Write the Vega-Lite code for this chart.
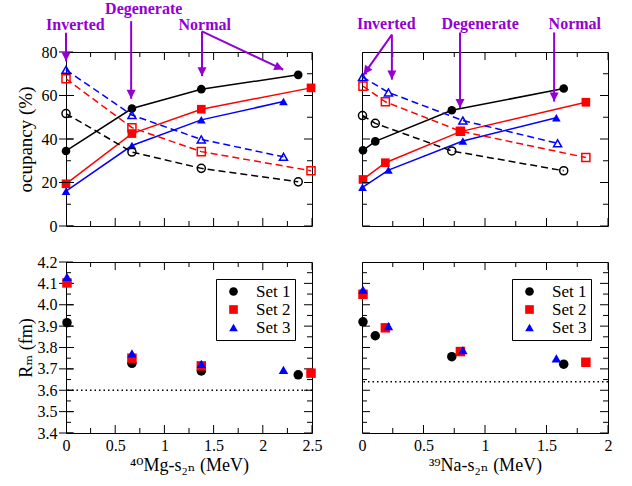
{
  "$schema": "https://vega.github.io/schema/vega-lite/v6.json",
  "background": "white",
  "padding": {"left": 15, "top": 0, "right": 0, "bottom": 0},
  "datasets": {
    "tl": [
      {"set": "Set 1", "kind": "filled", "x": 0, "y": 34.5},
      {"set": "Set 1", "kind": "filled", "x": 0.67, "y": 54},
      {"set": "Set 1", "kind": "filled", "x": 1.375, "y": 62.9},
      {"set": "Set 1", "kind": "filled", "x": 2.36, "y": 69.5},
      {"set": "Set 2", "kind": "filled", "x": 0, "y": 19.4},
      {"set": "Set 2", "kind": "filled", "x": 0.67, "y": 42.5},
      {"set": "Set 2", "kind": "filled", "x": 1.375, "y": 53.7},
      {"set": "Set 2", "kind": "filled", "x": 2.49, "y": 63.5},
      {"set": "Set 3", "kind": "filled", "x": 0, "y": 16},
      {"set": "Set 3", "kind": "filled", "x": 0.67, "y": 37},
      {"set": "Set 3", "kind": "filled", "x": 1.375, "y": 48.8},
      {"set": "Set 3", "kind": "filled", "x": 2.21, "y": 57.2},
      {"set": "Set 1", "kind": "open", "x": 0, "y": 51.7},
      {"set": "Set 1", "kind": "open", "x": 0.67, "y": 34},
      {"set": "Set 1", "kind": "open", "x": 1.375, "y": 26.5},
      {"set": "Set 1", "kind": "open", "x": 2.36, "y": 20.3},
      {"set": "Set 2", "kind": "open", "x": 0, "y": 67.7},
      {"set": "Set 2", "kind": "open", "x": 0.67, "y": 45.2},
      {"set": "Set 2", "kind": "open", "x": 1.375, "y": 34.2},
      {"set": "Set 2", "kind": "open", "x": 2.49, "y": 25.4},
      {"set": "Set 3", "kind": "open", "x": 0, "y": 71.8},
      {"set": "Set 3", "kind": "open", "x": 0.67, "y": 51},
      {"set": "Set 3", "kind": "open", "x": 1.375, "y": 39.8},
      {"set": "Set 3", "kind": "open", "x": 2.21, "y": 31.8}
    ],
    "tr": [
      {"set": "Set 1", "kind": "filled", "x": 0.008, "y": 34.8},
      {"set": "Set 1", "kind": "filled", "x": 0.108, "y": 38.9},
      {"set": "Set 1", "kind": "filled", "x": 0.73, "y": 53.2},
      {"set": "Set 1", "kind": "filled", "x": 1.64, "y": 63.2},
      {"set": "Set 2", "kind": "filled", "x": 0.008, "y": 21.4},
      {"set": "Set 2", "kind": "filled", "x": 0.19, "y": 29.1},
      {"set": "Set 2", "kind": "filled", "x": 0.8, "y": 43.4},
      {"set": "Set 2", "kind": "filled", "x": 1.82, "y": 56.9},
      {"set": "Set 3", "kind": "filled", "x": 0.004, "y": 17.8},
      {"set": "Set 3", "kind": "filled", "x": 0.215, "y": 25.7},
      {"set": "Set 3", "kind": "filled", "x": 0.82, "y": 39.1},
      {"set": "Set 3", "kind": "filled", "x": 1.58, "y": 49.8},
      {"set": "Set 1", "kind": "open", "x": 0.004, "y": 50.8},
      {"set": "Set 1", "kind": "open", "x": 0.108, "y": 47.2},
      {"set": "Set 1", "kind": "open", "x": 0.73, "y": 34.5},
      {"set": "Set 1", "kind": "open", "x": 1.64, "y": 25.4},
      {"set": "Set 2", "kind": "open", "x": 0.008, "y": 64.3},
      {"set": "Set 2", "kind": "open", "x": 0.19, "y": 57.1},
      {"set": "Set 2", "kind": "open", "x": 0.8, "y": 43.6},
      {"set": "Set 2", "kind": "open", "x": 1.82, "y": 31.5},
      {"set": "Set 3", "kind": "open", "x": 0.004, "y": 68.5},
      {"set": "Set 3", "kind": "open", "x": 0.215, "y": 61.4},
      {"set": "Set 3", "kind": "open", "x": 0.82, "y": 48.5},
      {"set": "Set 3", "kind": "open", "x": 1.59, "y": 38}
    ],
    "bl": [
      {"set": "Set 1", "x": 0.01, "y": 3.916},
      {"set": "Set 1", "x": 0.67, "y": 3.726},
      {"set": "Set 1", "x": 1.375, "y": 3.69},
      {"set": "Set 1", "x": 2.36, "y": 3.672},
      {"set": "Set 2", "x": 0.01, "y": 4.102},
      {"set": "Set 2", "x": 0.67, "y": 3.75},
      {"set": "Set 2", "x": 1.375, "y": 3.714},
      {"set": "Set 2", "x": 2.49, "y": 3.68},
      {"set": "Set 3", "x": 0.01, "y": 4.13},
      {"set": "Set 3", "x": 0.67, "y": 3.773},
      {"set": "Set 3", "x": 1.375, "y": 3.723},
      {"set": "Set 3", "x": 2.21, "y": 3.695}
    ],
    "br": [
      {"set": "Set 1", "x": 0.008, "y": 3.92},
      {"set": "Set 1", "x": 0.108, "y": 3.855},
      {"set": "Set 1", "x": 0.73, "y": 3.757},
      {"set": "Set 1", "x": 1.64, "y": 3.722},
      {"set": "Set 2", "x": 0.008, "y": 4.049},
      {"set": "Set 2", "x": 0.19, "y": 3.892},
      {"set": "Set 2", "x": 0.8, "y": 3.781},
      {"set": "Set 2", "x": 1.82, "y": 3.731},
      {"set": "Set 3", "x": 0.008, "y": 4.071},
      {"set": "Set 3", "x": 0.215, "y": 3.9},
      {"set": "Set 3", "x": 0.82, "y": 3.788},
      {"set": "Set 3", "x": 1.58, "y": 3.749}
    ],
    "bl_ref": [{"y": 3.6}],
    "br_ref": [{"y": 3.64}],
    "x25": [{"v": 0}, {"v": 0.25}, {"v": 0.5}, {"v": 0.75}, {"v": 1}, {"v": 1.25}, {"v": 1.5}, {"v": 1.75}, {"v": 2}, {"v": 2.25}, {"v": 2.5}],
    "x20": [{"v": 0}, {"v": 0.25}, {"v": 0.5}, {"v": 0.75}, {"v": 1}, {"v": 1.25}, {"v": 1.5}, {"v": 1.75}, {"v": 2}],
    "y80": [{"v": 0}, {"v": 10}, {"v": 20}, {"v": 30}, {"v": 40}, {"v": 50}, {"v": 60}, {"v": 70}, {"v": 80}],
    "yrm": [{"v": 3.4}, {"v": 3.45}, {"v": 3.5}, {"v": 3.55}, {"v": 3.6}, {"v": 3.65}, {"v": 3.7}, {"v": 3.75}, {"v": 3.8}, {"v": 3.85}, {"v": 3.9}, {"v": 3.95}, {"v": 4.0}, {"v": 4.05}, {"v": 4.1}, {"v": 4.15}, {"v": 4.2}],
    "tl_text": [
      {"label": "Inverted", "x": 0.095, "y": 92.6},
      {"label": "Degenerate", "x": 0.79, "y": 99.6},
      {"label": "Normal", "x": 1.41, "y": 92.6}
    ],
    "tl_arrow": [
      {"dir": "down", "x": 0, "y": 88.8, "x2": 0, "y2": 75.7},
      {"dir": "down", "x": 0.662, "y": 94.2, "x2": 0.662, "y2": 58.5},
      {"dir": "down", "x": 1.382, "y": 89.5, "x2": 1.382, "y2": 68.9},
      {"dir": "diag", "x": 1.382, "y": 89.5, "x2": 2.208, "y2": 71.9}
    ],
    "tr_text": [
      {"label": "Inverted", "x": 0.197, "y": 93.1},
      {"label": "Degenerate", "x": 0.96, "y": 93.1},
      {"label": "Normal", "x": 1.73, "y": 93.1}
    ],
    "tr_arrow": [
      {"dir": "diag", "x": 0.243, "y": 88, "x2": 0.013, "y2": 69.6},
      {"dir": "down", "x": 0.243, "y": 88, "x2": 0.243, "y2": 67.3},
      {"dir": "down", "x": 0.797, "y": 89, "x2": 0.797, "y2": 54.2},
      {"dir": "down", "x": 1.562, "y": 89, "x2": 1.562, "y2": 57.2}
    ]
  },
  "columns": 2,
  "spacing": {"row": 36, "column": 50},
  "bounds": "flush",
  "resolve": {
    "scale": {"color": "independent", "shape": "independent", "x": "independent", "y": "independent"},
    "legend": {"color": "independent", "shape": "independent"}
  },
  "concat": [
    {
      "width": 246,
      "height": 174,
      "resolve": {"axis": {"x": "independent", "y": "independent"}},
      "layer": [
        {
          "data": {"name": "tl"},
          "transform": [{"filter": "datum.kind === 'filled'"}],
          "mark": {"type": "line", "strokeWidth": 1.5},
          "encoding": {
            "x": {"field": "x", "type": "quantitative", "scale": {"domain": [0, 2.5], "nice": false, "zero": false}, "axis": null},
            "y": {"field": "y", "type": "quantitative", "scale": {"domain": [0, 80], "nice": false, "zero": false}, "axis": null},
            "color": {"field": "set", "type": "nominal", "scale": {"domain": ["Set 1", "Set 2", "Set 3"], "range": ["black", "#ff0000", "#0000ff"]}, "legend": null}
          }
        },
        {
          "data": {"name": "tl"},
          "transform": [{"filter": "datum.kind === 'open'"}],
          "mark": {"type": "line", "strokeWidth": 1.5, "strokeDash": [7, 4]},
          "encoding": {
            "x": {"field": "x", "type": "quantitative", "scale": {"domain": [0, 2.5], "nice": false, "zero": false}, "axis": null},
            "y": {"field": "y", "type": "quantitative", "scale": {"domain": [0, 80], "nice": false, "zero": false}, "axis": null},
            "color": {"field": "set", "type": "nominal", "legend": null}
          }
        },
        {
          "data": {"name": "tl"},
          "transform": [{"filter": "datum.kind === 'filled'"}],
          "mark": {"type": "point", "filled": true, "size": 75, "opacity": 1},
          "encoding": {
            "x": {"field": "x", "type": "quantitative", "scale": {"domain": [0, 2.5], "nice": false, "zero": false}, "axis": null},
            "y": {"field": "y", "type": "quantitative", "scale": {"domain": [0, 80], "nice": false, "zero": false}, "axis": null},
            "color": {"field": "set", "type": "nominal", "legend": null},
            "shape": {"field": "set", "type": "nominal", "scale": {"domain": ["Set 1", "Set 2", "Set 3"], "range": ["circle", "square", "triangle-up"]}, "legend": null}
          }
        },
        {
          "data": {"name": "tl"},
          "transform": [{"filter": "datum.kind === 'open'"}],
          "mark": {"type": "point", "filled": false, "size": 65, "strokeWidth": 1.5, "opacity": 1},
          "encoding": {
            "x": {"field": "x", "type": "quantitative", "scale": {"domain": [0, 2.5], "nice": false, "zero": false}, "axis": null},
            "y": {"field": "y", "type": "quantitative", "scale": {"domain": [0, 80], "nice": false, "zero": false}, "axis": null},
            "color": {"field": "set", "type": "nominal", "legend": null},
            "shape": {"field": "set", "type": "nominal", "legend": null}
          }
        },
        {
          "data": {"name": "x25"},
          "mark": {"type": "tick", "orient": "vertical", "thickness": 1, "color": "black", "opacity": 1, "clip": true},
          "encoding": {
            "x": {"field": "v", "type": "quantitative", "scale": {"domain": [0, 2.5], "nice": false, "zero": false}, "axis": null},
            "y": {"datum": 0, "type": "quantitative", "scale": {"domain": [0, 80], "nice": false, "zero": false}, "axis": null},
            "size": {"condition": {"test": "datum.v % 0.5 === 0", "value": 16}, "value": 10}
          }
        },
        {
          "data": {"name": "x25"},
          "mark": {"type": "tick", "orient": "vertical", "thickness": 1, "color": "black", "opacity": 1, "clip": true},
          "encoding": {
            "x": {"field": "v", "type": "quantitative", "scale": {"domain": [0, 2.5], "nice": false, "zero": false}, "axis": null},
            "y": {"datum": 80, "type": "quantitative", "scale": {"domain": [0, 80], "nice": false, "zero": false}, "axis": null},
            "size": {"condition": {"test": "datum.v % 0.5 === 0", "value": 16}, "value": 10}
          }
        },
        {
          "data": {"name": "y80"},
          "mark": {"type": "tick", "orient": "horizontal", "thickness": 1, "color": "black", "opacity": 1, "clip": false},
          "encoding": {
            "y": {"field": "v", "type": "quantitative", "scale": {"domain": [0, 80], "nice": false, "zero": false}, "axis": null},
            "x": {"datum": 0, "type": "quantitative", "scale": {"domain": [0, 2.5], "nice": false, "zero": false}, "axis": null},
            "size": {"condition": {"test": "datum.v % 20 === 0", "value": 14}, "value": 0}
          }
        },
        {
          "data": {"name": "y80"},
          "mark": {"type": "tick", "orient": "horizontal", "thickness": 1, "color": "black", "opacity": 1, "clip": true},
          "encoding": {
            "y": {"field": "v", "type": "quantitative", "scale": {"domain": [0, 80], "nice": false, "zero": false}, "axis": null},
            "x": {"datum": 0, "type": "quantitative", "scale": {"domain": [0, 2.5], "nice": false, "zero": false}, "axis": null},
            "size": {"condition": {"test": "datum.v % 20 === 0", "value": 16}, "value": 10}
          }
        },
        {
          "data": {"name": "y80"},
          "mark": {"type": "tick", "orient": "horizontal", "thickness": 1, "color": "black", "opacity": 1, "clip": true},
          "encoding": {
            "y": {"field": "v", "type": "quantitative", "scale": {"domain": [0, 80], "nice": false, "zero": false}, "axis": null},
            "x": {"datum": 2.5, "type": "quantitative", "scale": {"domain": [0, 2.5], "nice": false, "zero": false}, "axis": null},
            "size": {"condition": {"test": "datum.v % 20 === 0", "value": 16}, "value": 10}
          }
        },
        {
          "data": {"name": "tl_arrow"},
          "mark": {"type": "rule", "color": "#9400d3", "strokeWidth": 2, "clip": false},
          "encoding": {
            "x": {"field": "x", "type": "quantitative", "scale": {"domain": [0, 2.5], "nice": false, "zero": false}, "axis": null},
            "y": {"field": "y", "type": "quantitative", "scale": {"domain": [0, 80], "nice": false, "zero": false}, "axis": null},
            "x2": {"field": "x2"},
            "y2": {"field": "y2"}
          }
        },
        {
          "data": {"name": "tl_arrow"},
          "transform": [{"filter": "datum.dir === 'down'"}],
          "mark": {"type": "point", "shape": "M0,0L-0.45,-0.9L0.45,-0.9Z", "size": 400, "filled": true, "opacity": 1, "color": "#9400d3", "clip": false},
          "encoding": {
            "x": {"field": "x2", "type": "quantitative", "scale": {"domain": [0, 2.5], "nice": false, "zero": false}, "axis": null},
            "y": {"field": "y2", "type": "quantitative", "scale": {"domain": [0, 80], "nice": false, "zero": false}, "axis": null}
          }
        },
        {
          "data": {"name": "tl_arrow"},
          "transform": [{"filter": "datum.dir === 'diag'"}],
          "mark": {"type": "point", "shape": "M0,0L-0.45,-0.9L0.45,-0.9Z", "size": 400, "angle": 295, "filled": true, "opacity": 1, "color": "#9400d3", "clip": false},
          "encoding": {
            "x": {"field": "x2", "type": "quantitative", "scale": {"domain": [0, 2.5], "nice": false, "zero": false}, "axis": null},
            "y": {"field": "y2", "type": "quantitative", "scale": {"domain": [0, 80], "nice": false, "zero": false}, "axis": null}
          }
        },
        {
          "data": {"name": "tl_text"},
          "mark": {"type": "text", "font": "Liberation Serif", "fontWeight": "bold", "fontSize": 16, "color": "#9400d3", "baseline": "middle", "align": "center", "clip": false},
          "encoding": {
            "x": {"field": "x", "type": "quantitative", "scale": {"domain": [0, 2.5], "nice": false, "zero": false}, "axis": null},
            "y": {"field": "y", "type": "quantitative", "scale": {"domain": [0, 80], "nice": false, "zero": false}, "axis": null},
            "text": {"field": "label"}
          }
        },
        {
          "data": {"name": "tl"},
          "mark": {"type": "point", "opacity": 0},
          "encoding": {
            "x": {"field": "x", "type": "quantitative", "scale": {"domain": [0, 2.5], "nice": false, "zero": false},
              "axis": {"orient": "bottom", "values": [0, 0.5, 1, 1.5, 2, 2.5], "labels": false, "ticks": false, "title": null}},
            "y": {"field": "y", "type": "quantitative", "scale": {"domain": [0, 80], "nice": false, "zero": false},
              "axis": {"orient": "left", "values": [0, 20, 40, 60, 80], "labelExpr": "'' + datum.value", "ticks": false, "labelPadding": 9,
                "labelOverlap": false, "labelFlush": false, "labelBound": false,
                "title": "ocupancy (%)", "titleX": -31, "titleFontSize": 19}}
          }
        }
      ]
    },
    {
      "width": 246,
      "height": 174,
      "layer": [
        {
          "data": {"name": "tr"},
          "transform": [{"filter": "datum.kind === 'filled'"}],
          "mark": {"type": "line", "strokeWidth": 1.5},
          "encoding": {
            "x": {"field": "x", "type": "quantitative", "scale": {"domain": [0, 2], "nice": false, "zero": false}, "axis": null},
            "y": {"field": "y", "type": "quantitative", "scale": {"domain": [0, 80], "nice": false, "zero": false}, "axis": null},
            "color": {"field": "set", "type": "nominal", "scale": {"domain": ["Set 1", "Set 2", "Set 3"], "range": ["black", "#ff0000", "#0000ff"]}, "legend": null}
          }
        },
        {
          "data": {"name": "tr"},
          "transform": [{"filter": "datum.kind === 'open'"}],
          "mark": {"type": "line", "strokeWidth": 1.5, "strokeDash": [7, 4]},
          "encoding": {
            "x": {"field": "x", "type": "quantitative", "scale": {"domain": [0, 2], "nice": false, "zero": false}, "axis": null},
            "y": {"field": "y", "type": "quantitative", "scale": {"domain": [0, 80], "nice": false, "zero": false}, "axis": null},
            "color": {"field": "set", "type": "nominal", "legend": null}
          }
        },
        {
          "data": {"name": "tr"},
          "transform": [{"filter": "datum.kind === 'open'"}],
          "mark": {"type": "point", "filled": false, "size": 65, "strokeWidth": 1.5, "opacity": 1},
          "encoding": {
            "x": {"field": "x", "type": "quantitative", "scale": {"domain": [0, 2], "nice": false, "zero": false}, "axis": null},
            "y": {"field": "y", "type": "quantitative", "scale": {"domain": [0, 80], "nice": false, "zero": false}, "axis": null},
            "color": {"field": "set", "type": "nominal", "legend": null},
            "shape": {"field": "set", "type": "nominal", "scale": {"domain": ["Set 1", "Set 2", "Set 3"], "range": ["circle", "square", "triangle-up"]}, "legend": null}
          }
        },
        {
          "data": {"name": "tr"},
          "transform": [{"filter": "datum.kind === 'filled'"}],
          "mark": {"type": "point", "filled": true, "size": 75, "opacity": 1},
          "encoding": {
            "x": {"field": "x", "type": "quantitative", "scale": {"domain": [0, 2], "nice": false, "zero": false}, "axis": null},
            "y": {"field": "y", "type": "quantitative", "scale": {"domain": [0, 80], "nice": false, "zero": false}, "axis": null},
            "color": {"field": "set", "type": "nominal", "legend": null},
            "shape": {"field": "set", "type": "nominal", "legend": null}
          }
        },
        {
          "data": {"name": "x20"},
          "mark": {"type": "tick", "orient": "vertical", "thickness": 1, "color": "black", "opacity": 1, "clip": true},
          "encoding": {
            "x": {"field": "v", "type": "quantitative", "scale": {"domain": [0, 2], "nice": false, "zero": false}, "axis": null},
            "y": {"datum": 0, "type": "quantitative", "scale": {"domain": [0, 80], "nice": false, "zero": false}, "axis": null},
            "size": {"condition": {"test": "datum.v % 0.5 === 0", "value": 16}, "value": 10}
          }
        },
        {
          "data": {"name": "x20"},
          "mark": {"type": "tick", "orient": "vertical", "thickness": 1, "color": "black", "opacity": 1, "clip": true},
          "encoding": {
            "x": {"field": "v", "type": "quantitative", "scale": {"domain": [0, 2], "nice": false, "zero": false}, "axis": null},
            "y": {"datum": 80, "type": "quantitative", "scale": {"domain": [0, 80], "nice": false, "zero": false}, "axis": null},
            "size": {"condition": {"test": "datum.v % 0.5 === 0", "value": 16}, "value": 10}
          }
        },
        {
          "data": {"name": "y80"},
          "mark": {"type": "tick", "orient": "horizontal", "thickness": 1, "color": "black", "opacity": 1, "clip": true},
          "encoding": {
            "y": {"field": "v", "type": "quantitative", "scale": {"domain": [0, 80], "nice": false, "zero": false}, "axis": null},
            "x": {"datum": 0, "type": "quantitative", "scale": {"domain": [0, 2], "nice": false, "zero": false}, "axis": null},
            "size": {"condition": {"test": "datum.v % 20 === 0", "value": 16}, "value": 10}
          }
        },
        {
          "data": {"name": "y80"},
          "mark": {"type": "tick", "orient": "horizontal", "thickness": 1, "color": "black", "opacity": 1, "clip": true},
          "encoding": {
            "y": {"field": "v", "type": "quantitative", "scale": {"domain": [0, 80], "nice": false, "zero": false}, "axis": null},
            "x": {"datum": 2, "type": "quantitative", "scale": {"domain": [0, 2], "nice": false, "zero": false}, "axis": null},
            "size": {"condition": {"test": "datum.v % 20 === 0", "value": 16}, "value": 10}
          }
        },
        {
          "data": {"name": "tr_arrow"},
          "mark": {"type": "rule", "color": "#9400d3", "strokeWidth": 2, "clip": false},
          "encoding": {
            "x": {"field": "x", "type": "quantitative", "scale": {"domain": [0, 2], "nice": false, "zero": false}, "axis": null},
            "y": {"field": "y", "type": "quantitative", "scale": {"domain": [0, 80], "nice": false, "zero": false}, "axis": null},
            "x2": {"field": "x2"},
            "y2": {"field": "y2"}
          }
        },
        {
          "data": {"name": "tr_arrow"},
          "transform": [{"filter": "datum.dir === 'down'"}],
          "mark": {"type": "point", "shape": "M0,0L-0.45,-0.9L0.45,-0.9Z", "size": 400, "filled": true, "opacity": 1, "color": "#9400d3", "clip": false},
          "encoding": {
            "x": {"field": "x2", "type": "quantitative", "scale": {"domain": [0, 2], "nice": false, "zero": false}, "axis": null},
            "y": {"field": "y2", "type": "quantitative", "scale": {"domain": [0, 80], "nice": false, "zero": false}, "axis": null}
          }
        },
        {
          "data": {"name": "tr_arrow"},
          "transform": [{"filter": "datum.dir === 'diag'"}],
          "mark": {"type": "point", "shape": "M0,0L-0.45,-0.9L0.45,-0.9Z", "size": 400, "angle": 35, "filled": true, "opacity": 1, "color": "#9400d3", "clip": false},
          "encoding": {
            "x": {"field": "x2", "type": "quantitative", "scale": {"domain": [0, 2], "nice": false, "zero": false}, "axis": null},
            "y": {"field": "y2", "type": "quantitative", "scale": {"domain": [0, 80], "nice": false, "zero": false}, "axis": null}
          }
        },
        {
          "data": {"name": "tr_text"},
          "mark": {"type": "text", "font": "Liberation Serif", "fontWeight": "bold", "fontSize": 16, "color": "#9400d3", "baseline": "middle", "align": "center", "clip": false},
          "encoding": {
            "x": {"field": "x", "type": "quantitative", "scale": {"domain": [0, 2], "nice": false, "zero": false}, "axis": null},
            "y": {"field": "y", "type": "quantitative", "scale": {"domain": [0, 80], "nice": false, "zero": false}, "axis": null},
            "text": {"field": "label"}
          }
        }
      ]
    },
    {
      "width": 246,
      "height": 171,
      "resolve": {"axis": {"x": "independent", "y": "independent"}},
      "layer": [
        {
          "data": {"name": "bl_ref"},
          "mark": {"type": "rule", "color": "black", "strokeWidth": 1.5, "strokeDash": [1.5, 3]},
          "encoding": {
            "y": {"field": "y", "type": "quantitative", "scale": {"domain": [3.4, 4.2], "nice": false, "zero": false}, "axis": null}
          }
        },
        {
          "data": {"name": "x25"},
          "mark": {"type": "tick", "orient": "vertical", "thickness": 1, "color": "black", "opacity": 1, "clip": true},
          "encoding": {
            "x": {"field": "v", "type": "quantitative", "scale": {"domain": [0, 2.5], "nice": false, "zero": false}, "axis": null},
            "y": {"datum": 3.4, "type": "quantitative", "scale": {"domain": [3.4, 4.2], "nice": false, "zero": false}, "axis": null},
            "size": {"condition": {"test": "datum.v % 0.5 === 0", "value": 16}, "value": 10}
          }
        },
        {
          "data": {"name": "x25"},
          "mark": {"type": "tick", "orient": "vertical", "thickness": 1, "color": "black", "opacity": 1, "clip": true},
          "encoding": {
            "x": {"field": "v", "type": "quantitative", "scale": {"domain": [0, 2.5], "nice": false, "zero": false}, "axis": null},
            "y": {"datum": 4.2, "type": "quantitative", "scale": {"domain": [3.4, 4.2], "nice": false, "zero": false}, "axis": null},
            "size": {"condition": {"test": "datum.v % 0.5 === 0", "value": 16}, "value": 10}
          }
        },
        {
          "data": {"name": "yrm"},
          "mark": {"type": "tick", "orient": "horizontal", "thickness": 1, "color": "black", "opacity": 1, "clip": false},
          "encoding": {
            "y": {"field": "v", "type": "quantitative", "scale": {"domain": [3.4, 4.2], "nice": false, "zero": false}, "axis": null},
            "x": {"datum": 0, "type": "quantitative", "scale": {"domain": [0, 2.5], "nice": false, "zero": false}, "axis": null},
            "size": {"condition": {"test": "round(datum.v * 100) % 10 === 0", "value": 14}, "value": 0}
          }
        },
        {
          "data": {"name": "yrm"},
          "mark": {"type": "tick", "orient": "horizontal", "thickness": 1, "color": "black", "opacity": 1, "clip": true},
          "encoding": {
            "y": {"field": "v", "type": "quantitative", "scale": {"domain": [3.4, 4.2], "nice": false, "zero": false}, "axis": null},
            "x": {"datum": 0, "type": "quantitative", "scale": {"domain": [0, 2.5], "nice": false, "zero": false}, "axis": null},
            "size": {"condition": {"test": "round(datum.v * 100) % 10 === 0", "value": 16}, "value": 10}
          }
        },
        {
          "data": {"name": "yrm"},
          "mark": {"type": "tick", "orient": "horizontal", "thickness": 1, "color": "black", "opacity": 1, "clip": true},
          "encoding": {
            "y": {"field": "v", "type": "quantitative", "scale": {"domain": [3.4, 4.2], "nice": false, "zero": false}, "axis": null},
            "x": {"datum": 2.5, "type": "quantitative", "scale": {"domain": [0, 2.5], "nice": false, "zero": false}, "axis": null},
            "size": {"condition": {"test": "round(datum.v * 100) % 10 === 0", "value": 16}, "value": 10}
          }
        },
        {
          "data": {"name": "bl"},
          "mark": {"type": "point", "filled": true, "size": 90, "opacity": 1},
          "encoding": {
            "x": {"field": "x", "type": "quantitative", "scale": {"domain": [0, 2.5], "nice": false, "zero": false},
              "axis": {"orient": "bottom", "values": [0, 0.5, 1, 1.5, 2, 2.5], "labelExpr": "'' + datum.value", "labelPadding": 4, "labelOverlap": false, "labelFlush": false, "ticks": false,
                "title": "⁴⁰Mg-s₂ₙ (MeV)", "titleBaseline": "alphabetic", "titleY": 37}},
            "y": {"field": "y", "type": "quantitative", "scale": {"domain": [3.4, 4.2], "nice": false, "zero": false},
              "axis": {"orient": "left", "values": [3.4, 3.5, 3.6, 3.7, 3.8, 3.9, 4.0, 4.1, 4.2],
                "labelExpr": "format(datum.value, '.1f')", "labelPadding": 9, "labelOverlap": false, "labelFlush": false, "ticks": false,
                "title": "Rₘ (fm)", "titleX": -31}},
            "color": {"field": "set", "type": "nominal", "scale": {"domain": ["Set 1", "Set 2", "Set 3"], "range": ["black", "#ff0000", "#0000ff"]},
              "legend": {"title": null, "orient": "top-right", "offset": 17}},
            "shape": {"field": "set", "type": "nominal", "scale": {"domain": ["Set 1", "Set 2", "Set 3"], "range": ["circle", "square", "triangle-up"]},
              "legend": {"title": null, "orient": "top-right", "offset": 17}}
          }
        }
      ]
    },
    {
      "width": 246,
      "height": 171,
      "resolve": {"axis": {"x": "independent", "y": "independent"}},
      "layer": [
        {
          "data": {"name": "br_ref"},
          "mark": {"type": "rule", "color": "black", "strokeWidth": 1.5, "strokeDash": [1.5, 3]},
          "encoding": {
            "y": {"field": "y", "type": "quantitative", "scale": {"domain": [3.4, 4.2], "nice": false, "zero": false}, "axis": null}
          }
        },
        {
          "data": {"name": "x20"},
          "mark": {"type": "tick", "orient": "vertical", "thickness": 1, "color": "black", "opacity": 1, "clip": true},
          "encoding": {
            "x": {"field": "v", "type": "quantitative", "scale": {"domain": [0, 2], "nice": false, "zero": false}, "axis": null},
            "y": {"datum": 3.4, "type": "quantitative", "scale": {"domain": [3.4, 4.2], "nice": false, "zero": false}, "axis": null},
            "size": {"condition": {"test": "datum.v % 0.5 === 0", "value": 16}, "value": 10}
          }
        },
        {
          "data": {"name": "x20"},
          "mark": {"type": "tick", "orient": "vertical", "thickness": 1, "color": "black", "opacity": 1, "clip": true},
          "encoding": {
            "x": {"field": "v", "type": "quantitative", "scale": {"domain": [0, 2], "nice": false, "zero": false}, "axis": null},
            "y": {"datum": 4.2, "type": "quantitative", "scale": {"domain": [3.4, 4.2], "nice": false, "zero": false}, "axis": null},
            "size": {"condition": {"test": "datum.v % 0.5 === 0", "value": 16}, "value": 10}
          }
        },
        {
          "data": {"name": "yrm"},
          "mark": {"type": "tick", "orient": "horizontal", "thickness": 1, "color": "black", "opacity": 1, "clip": true},
          "encoding": {
            "y": {"field": "v", "type": "quantitative", "scale": {"domain": [3.4, 4.2], "nice": false, "zero": false}, "axis": null},
            "x": {"datum": 0, "type": "quantitative", "scale": {"domain": [0, 2], "nice": false, "zero": false}, "axis": null},
            "size": {"condition": {"test": "round(datum.v * 100) % 10 === 0", "value": 16}, "value": 10}
          }
        },
        {
          "data": {"name": "yrm"},
          "mark": {"type": "tick", "orient": "horizontal", "thickness": 1, "color": "black", "opacity": 1, "clip": true},
          "encoding": {
            "y": {"field": "v", "type": "quantitative", "scale": {"domain": [3.4, 4.2], "nice": false, "zero": false}, "axis": null},
            "x": {"datum": 2, "type": "quantitative", "scale": {"domain": [0, 2], "nice": false, "zero": false}, "axis": null},
            "size": {"condition": {"test": "round(datum.v * 100) % 10 === 0", "value": 16}, "value": 10}
          }
        },
        {
          "data": {"name": "br"},
          "mark": {"type": "point", "filled": true, "size": 90, "opacity": 1},
          "encoding": {
            "x": {"field": "x", "type": "quantitative", "scale": {"domain": [0, 2], "nice": false, "zero": false},
              "axis": {"orient": "bottom", "values": [0, 0.5, 1, 1.5, 2], "labelExpr": "'' + datum.value", "labelPadding": 4, "labelOverlap": false, "labelFlush": false, "ticks": false,
                "title": "³⁹Na-s₂ₙ (MeV)", "titleBaseline": "alphabetic", "titleY": 37}},
            "y": {"field": "y", "type": "quantitative", "scale": {"domain": [3.4, 4.2], "nice": false, "zero": false}, "axis": null},
            "color": {"field": "set", "type": "nominal", "scale": {"domain": ["Set 1", "Set 2", "Set 3"], "range": ["black", "#ff0000", "#0000ff"]},
              "legend": {"title": null, "orient": "top-right", "offset": 17}},
            "shape": {"field": "set", "type": "nominal", "scale": {"domain": ["Set 1", "Set 2", "Set 3"], "range": ["circle", "square", "triangle-up"]},
              "legend": {"title": null, "orient": "top-right", "offset": 17}}
          }
        }
      ]
    }
  ],
  "config": {
    "font": "Liberation Serif",
    "view": {"stroke": "black", "strokeWidth": 1},
    "axis": {
      "grid": false,
      "domain": false,
      "labelFont": "Liberation Serif",
      "labelFontSize": 16,
      "labelColor": "black",
      "titleFont": "Liberation Serif, DejaVu Serif",
      "titleFontSize": 18,
      "titleFontWeight": "normal",
      "titleColor": "black"
    },
    "legend": {
      "labelFont": "Liberation Serif",
      "labelFontSize": 17,
      "labelColor": "black",
      "strokeColor": "black",
      "fillColor": "white",
      "padding": 4,
      "symbolSize": 75,
      "symbolOffset": 5,
      "labelOffset": 14,
      "rowPadding": 0,
      "symbolStrokeWidth": 0
    }
  }
}
